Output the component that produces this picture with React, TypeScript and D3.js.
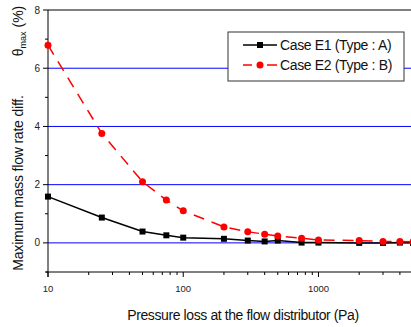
import React from "react";
import * as d3 from "d3";

const pressures = [10, 25, 50, 75, 100, 200, 300, 400, 500, 750, 1000, 2000, 3000, 4000, 5000];
const caseE1 = [1.59, 0.87, 0.39, 0.26, 0.18, 0.14, 0.08, 0.05, 0.08, 0.01, 0.01, 0.0, 0.0, 0.01, 0.0];
const caseE2 = [6.79, 3.76, 2.1, 1.47, 1.1, 0.55, 0.38, 0.3, 0.24, 0.16, 0.1, 0.08, 0.05, 0.05, 0.04];
const yTickLabels = [0, 2, 4, 6, 8];
const yMinorTicks = [-1, 1, 3, 5, 7];
const xMajorTicks = [10, 100, 1000];
const gridValues = [0, 2, 4, 6];
const seriesNames = ["Case E1 (Type : A)", "Case E2 (Type : B)"];

export default function App() {
  const W = 411, H = 327;
  const left = 48, top = 10, bottom = 272, right = 413;
  const x = d3.scaleLog().domain([10, 5000]).range([left, right]);
  const y = d3.scaleLinear().domain([-1, 8]).range([bottom, top]);
  const font = "Liberation Sans, Arial, sans-serif";

  const minorX: number[] = [];
  for (let d = 10; d <= 1000; d *= 10) {
    for (let k = 2; k <= 9; k++) {
      const v = d * k;
      if (v <= 5000) minorX.push(v);
    }
  }

  const line = d3.line<number>().x((_, i) => x(pressures[i])).y((v) => y(v));

  return (
    <svg width={W} height={H} style={{ position: "absolute", left: 0, top: 0, background: "#fff" }} fontFamily={font}>
      {gridValues.map((g) => (
        <line key={g} x1={left} x2={W} y1={y(g)} y2={y(g)} stroke="#0000ff" strokeWidth={1} />
      ))}
      {/* frame */}
      <line x1={left} x2={W} y1={top} y2={top} stroke="#000" strokeWidth={1} />
      <line x1={left} x2={left} y1={top} y2={bottom + 5} stroke="#000" strokeWidth={1} />
      <line x1={left - 2} x2={W} y1={bottom} y2={bottom} stroke="#000" strokeWidth={1} />
      {/* y ticks */}
      {yTickLabels.map((t) => (
        <g key={t}>
          <line x1={left - 5} x2={left} y1={y(t)} y2={y(t)} stroke="#000" />
          <text x={left - 8} y={y(t) + 3.5} fontSize={10} textAnchor="end" fill="#222">{t}</text>
        </g>
      ))}
      {yMinorTicks.map((t) => (
        <line key={t} x1={left - 3} x2={left} y1={y(t)} y2={y(t)} stroke="#000" />
      ))}
      {/* x ticks */}
      {xMajorTicks.map((t) => (
        <g key={t}>
          <line x1={x(t)} x2={x(t)} y1={bottom} y2={bottom + 5} stroke="#000" />
          <text x={x(t)} y={bottom + 20} fontSize={9.5} textAnchor="middle" fill="#222">{t}</text>
        </g>
      ))}
      {minorX.map((t) => (
        <line key={t} x1={x(t)} x2={x(t)} y1={bottom} y2={bottom + 3} stroke="#000" />
      ))}
      {/* series */}
      <path d={line(caseE1) || ""} fill="none" stroke="#000" strokeWidth={1.5} />
      <path d={line(caseE2) || ""} fill="none" stroke="#ff0000" strokeWidth={1.5} strokeDasharray="11,8" />
      {caseE1.map((v, i) => (
        <rect key={i} x={x(pressures[i]) - 3} y={y(v) - 3} width={6} height={6} fill="#000" />
      ))}
      {caseE2.map((v, i) => (
        <circle key={i} cx={x(pressures[i])} cy={y(v)} r={3.5} fill="#ff0000" />
      ))}
      {/* legend */}
      <rect x={228} y={32} width={176} height={49} fill="#fff" stroke="#333" strokeWidth={1} />
      <line x1={243} x2={277} y1={45} y2={45} stroke="#000" strokeWidth={1.5} />
      <rect x={257} y={42} width={6} height={6} fill="#000" />
      <text x={280} y={50} fontSize={14} fill="#111" letterSpacing={-0.35}>{seriesNames[0]}</text>
      <line x1={243} x2={252} y1={65} y2={65} stroke="#ff0000" strokeWidth={1.5} />
      <line x1={267} x2={277} y1={65} y2={65} stroke="#ff0000" strokeWidth={1.5} />
      <circle cx={260} cy={65} r={3.5} fill="#ff0000" />
      <text x={280} y={70} fontSize={14} fill="#111" letterSpacing={-0.35}>{seriesNames[1]}</text>
      {/* axis titles */}
      <text x={243} y={320} fontSize={14} textAnchor="middle" fill="#111" letterSpacing={-0.4}>
        Pressure loss at the flow distributor (Pa)
      </text>
      <text transform="translate(23,183) rotate(-90)" fontSize={14} textAnchor="middle" fill="#111" letterSpacing={-0.2}>
        Maximum mass flow rate diff.
      </text>
      <text transform="translate(23,31) rotate(-90)" fontSize={14} textAnchor="middle" fill="#111">
        θ<tspan fontSize={9} dy={3}>max</tspan><tspan dy={-3}> (%)</tspan>
      </text>
    </svg>
  );
}
